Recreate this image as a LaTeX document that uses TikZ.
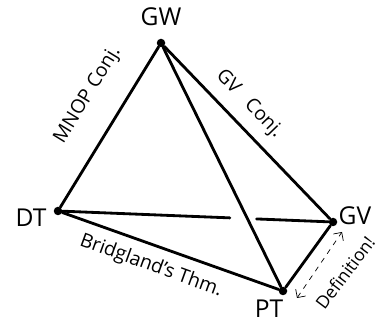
\documentclass[tikz,border=0pt]{standalone}
\usepackage{fontspec}
\setmainfont{Open Sans}
\usetikzlibrary{arrows.meta,positioning,calc}

\begin{document}
\begin{tikzpicture}[x=0.02cm,y=0.02cm,
  vertex/.style={circle,fill=black,inner sep=0pt,minimum size=0.17cm},
  vlabel/.style={font=\fontsize{14}{16}\selectfont},
  elabel/.style={font=\fontsize{11}{13}\selectfont,inner sep=1pt},
  edge/.style={line width=1.6pt,line cap=round}]
  \useasboundingbox (0,0) rectangle (377,323);
  % vertices
  \node[vertex] (gw) at (161,280) {};
  \node[vertex] (dt) at (58,112) {};
  \node[vertex] (gv) at (333,101) {};
  \node[vertex] (pt) at (283,32) {};
  \node[vlabel] (gwl) at (161,306) {GW};
  \node[vlabel] (dtl) at (31,105) {DT};
  \node[vlabel] (gvl) at (355,107) {GV};
  \node[vlabel] (ptl) at (269,14) {PT};
  % edges
  \draw[edge] (gw)--(dt);
  \draw[edge] (gw)--(gv);
  \draw[edge] (gw)--(pt);
  \draw[edge] (dt)--(pt);
  \draw[edge] (pt)--(gv);
  \draw[edge] (dt)--($(dt)!0.625!(gv)$);
  \draw[edge] ($(dt)!0.722!(gv)$)--(gv);
  % edge labels
  \node[elabel,rotate=58.5] (mnop) at (88,228) {MNOP Conj.};
  \node[elabel,rotate=-46] (gvc) at (249,219) {GV \ \ Conj.};
  \node[elabel,rotate=-20] (bt) at (151,57) {Bridgland's Thm.};
  \node[elabel,font=\fontsize{10}{12}\selectfont,rotate=53] (def) at (345,50) {Definition!};
  \coordinate (d1) at (297,25);
  \coordinate (d2) at (342,91);
  \draw[dashed,thin,{Straight Barb[length=1.2mm]}-{Straight Barb[length=1.2mm]}] (d1)--(d2);
\end{tikzpicture}
\end{document}
